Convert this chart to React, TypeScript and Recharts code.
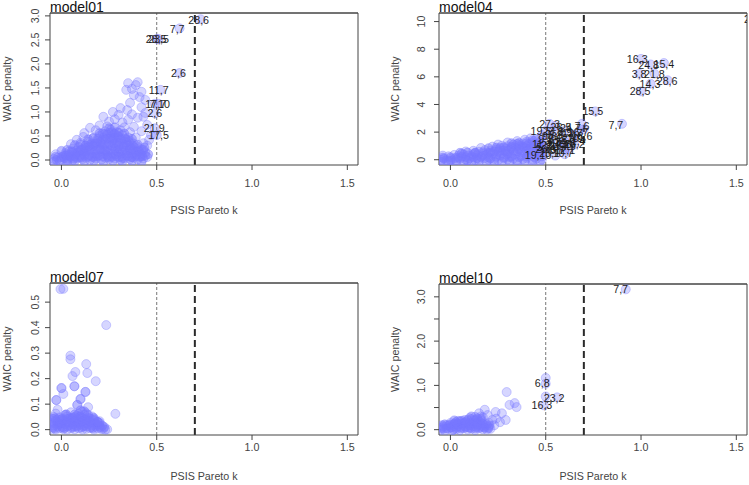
import React from 'react';
import { ScatterChart, Scatter, XAxis, YAxis, ReferenceLine, Label } from 'recharts';

const FONT = '"Liberation Sans", Arial, Helvetica, sans-serif';

// Shared Pareto-k axis
const kDomain: [number, number] = [-0.06, 1.556];
const kTicks = [0, 0.5, 1, 1.5];

type Pt = [number, number]; // [PSIS Pareto k, WAIC penalty]
type Tag = { id: string; k: number; p: number };

// ---------- model01 ----------
const model01Points: Pt[] = [
  [-0.04, 0.02], [-0.02, 0.05], [0.0, 0.01], [0.01, 0.08], [0.03, 0.03], [0.05, 0.06], [0.06, 0.0], [0.08, 0.04],
  [0.1, 0.09], [0.11, 0.02], [0.13, 0.05], [0.15, 0.0], [0.16, 0.07], [0.18, 0.03], [0.2, 0.1], [0.21, 0.01],
  [0.23, 0.05], [0.25, 0.02], [0.26, 0.08], [0.28, 0.03], [0.3, 0.06], [0.31, 0.0], [0.33, 0.04], [0.35, 0.08],
  [0.36, 0.02], [0.38, 0.05], [0.4, 0.01], [0.41, 0.07], [0.43, 0.03], [0.45, 0.06],
  [-0.03, 0.12], [0.02, 0.14], [0.04, 0.18], [0.07, 0.12], [0.09, 0.16], [0.12, 0.13], [0.14, 0.19], [0.17, 0.15],
  [0.19, 0.2], [0.22, 0.14], [0.24, 0.18], [0.27, 0.13], [0.29, 0.19], [0.32, 0.15], [0.34, 0.2], [0.37, 0.13],
  [0.39, 0.17], [0.42, 0.12], [0.44, 0.16],
  [0.06, 0.24], [0.09, 0.27], [0.11, 0.22], [0.13, 0.3], [0.15, 0.25], [0.18, 0.28], [0.2, 0.23], [0.22, 0.31],
  [0.24, 0.26], [0.26, 0.3], [0.28, 0.24], [0.3, 0.29], [0.33, 0.25], [0.35, 0.3], [0.37, 0.24], [0.4, 0.27], [0.42, 0.22],
  [0.1, 0.36], [0.14, 0.38], [0.16, 0.34], [0.19, 0.4], [0.21, 0.35], [0.23, 0.42], [0.25, 0.37], [0.27, 0.41],
  [0.29, 0.36], [0.31, 0.42], [0.34, 0.37], [0.36, 0.4], [0.38, 0.34],
  [0.17, 0.47], [0.2, 0.5], [0.22, 0.46], [0.24, 0.53], [0.26, 0.48], [0.28, 0.55], [0.3, 0.49], [0.32, 0.52], [0.35, 0.47],
  [0.23, 0.6], [0.26, 0.63], [0.29, 0.58], [0.31, 0.62],
  [0.115, 0.48], [0.15, 0.67], [0.12, 0.56], [0.2, 0.72], [0.22, 0.9], [0.25, 0.8], [0.27, 1.0], [0.3, 0.94],
  [0.32, 0.78], [0.345, 1.04], [0.36, 1.19], [0.34, 1.46], [0.35, 1.6], [0.38, 1.35], [0.39, 1.56], [0.4, 1.62],
  [0.41, 1.31], [0.4, 0.88], [0.38, 0.69], [0.37, 0.95], [0.42, 1.1], [0.44, 1.25], [0.43, 0.9], [0.45, 0.73],
  [0.47, 0.52], [0.43, 0.35], [0.46, 0.42], [0.33, 0.68], [0.36, 0.58], [0.39, 0.47], [0.42, 0.6], [0.18, 0.62],
  [0.24, 0.7], [0.28, 0.85], [0.31, 1.08], [0.35, 0.84], [0.42, 1.42], [0.37, 1.48], [0.44, 0.98], [0.05, 0.33],
  [0.08, 0.42], [0.45, 0.3],
  [0.73, 2.93], [0.62, 2.74], [0.5, 2.52], [0.51, 2.52], [0.62, 1.81], [0.52, 1.46], [0.49, 1.17], [0.51, 1.17],
  [0.49, 0.97], [0.49, 0.66], [0.5, 0.52],
];
// the crowded low-k core of model01
const model01Core: Pt[] = [
  [-0.04, -0.03], [-0.01, -0.02], [0.03, -0.04], [0.07, -0.02], [0.12, -0.03], [0.17, -0.02], [0.22, -0.04],
  [0.27, -0.02], [0.32, -0.03], [0.37, -0.02], [0.42, -0.04],
  [-0.03, 0.07], [0.0, 0.06], [0.025, 0.09], [0.045, 0.07], [0.07, 0.08], [0.095, 0.06], [0.12, 0.09], [0.14, 0.07],
  [0.165, 0.06], [0.19, 0.08], [0.215, 0.07], [0.24, 0.09], [0.265, 0.06], [0.29, 0.08], [0.315, 0.07], [0.34, 0.09],
  [0.365, 0.06], [0.39, 0.08], [0.415, 0.07], [0.44, 0.09],
  [0.0, 0.19], [0.03, 0.21], [0.055, 0.18], [0.08, 0.2], [0.105, 0.22], [0.13, 0.19], [0.155, 0.21], [0.18, 0.2],
  [0.205, 0.22], [0.23, 0.19], [0.255, 0.21], [0.28, 0.2], [0.305, 0.22], [0.33, 0.19], [0.355, 0.21], [0.38, 0.2],
  [0.405, 0.19], [0.43, 0.21],
  [0.07, 0.31], [0.1, 0.33], [0.125, 0.3], [0.15, 0.32], [0.175, 0.34], [0.2, 0.31], [0.225, 0.33], [0.25, 0.32],
  [0.275, 0.34], [0.3, 0.31], [0.325, 0.33], [0.35, 0.32], [0.375, 0.3], [0.4, 0.32],
  [0.14, 0.43], [0.165, 0.45], [0.19, 0.44], [0.215, 0.42], [0.24, 0.45], [0.265, 0.43], [0.29, 0.46], [0.315, 0.44],
  [0.34, 0.42], [0.37, 0.44],
  [0.2, 0.56], [0.225, 0.54], [0.25, 0.57], [0.275, 0.55], [0.3, 0.57], [0.33, 0.55],
  [0.25, 0.66], [0.28, 0.68],
  [-0.025, 0.0], [0.015, 0.04], [0.04, 0.11], [0.065, 0.03], [0.085, 0.15], [0.105, 0.05], [0.125, 0.25],
  [0.145, 0.1], [0.165, 0.29], [0.185, 0.12], [0.205, 0.37], [0.225, 0.22], [0.245, 0.06], [0.255, 0.45],
  [0.27, 0.28], [0.285, 0.12], [0.295, 0.5], [0.305, 0.36], [0.32, 0.04], [0.325, 0.28], [0.345, 0.14],
  [0.355, 0.38], [0.37, 0.06], [0.385, 0.26], [0.395, 0.11], [0.41, 0.18], [0.425, 0.08], [0.435, 0.26],
  [0.455, 0.12], [0.265, 0.58], [0.215, 0.55], [0.185, 0.35], [0.145, 0.28], [0.1, 0.2], [0.06, 0.16],
  [0.02, 0.1], [0.275, 0.47], [0.335, 0.45], [0.36, 0.25], [0.3, 0.15], [0.235, 0.12], [0.18, 0.07],
  [0.12, 0.17], [0.075, 0.06], [0.03, 0.0],
];
const model01Labels: Tag[] = [
  { id: '28,6', k: 0.72, p: 2.92 },
  { id: '7,7', k: 0.607, p: 2.73 },
  { id: '28,5', k: 0.497, p: 2.52 },
  { id: '23,5', k: 0.51, p: 2.52 },
  { id: '2,6', k: 0.614, p: 1.81 },
  { id: '11,7', k: 0.51, p: 1.46 },
  { id: '17,7', k: 0.495, p: 1.17 },
  { id: '7,10', k: 0.515, p: 1.17 },
  { id: '2,6', k: 0.49, p: 0.97 },
  { id: '21,9', k: 0.487, p: 0.66 },
  { id: '17,5', k: 0.51, p: 0.52 },
];

// ---------- model04 ----------
const model04Points: Pt[] = [
  [-0.05, 0.0], [-0.02, -0.05], [0.0, 0.05], [0.03, -0.02], [0.05, 0.08], [0.08, 0.0], [0.1, 0.1], [0.13, -0.03],
  [0.15, 0.05], [0.18, 0.12], [0.2, 0.0], [0.23, 0.06], [0.25, -0.04], [0.28, 0.1], [0.3, 0.02], [0.33, 0.08],
  [0.35, -0.02], [0.38, 0.05], [0.4, 0.12], [0.43, 0.0], [0.45, 0.07], [0.48, 0.02],
  [-0.04, 0.3], [-0.01, 0.25], [0.02, 0.35], [0.04, 0.28], [0.07, 0.38], [0.09, 0.3], [0.12, 0.4], [0.14, 0.33],
  [0.17, 0.42], [0.19, 0.36], [0.22, 0.45], [0.24, 0.38], [0.27, 0.48], [0.29, 0.4], [0.32, 0.5], [0.34, 0.42],
  [0.37, 0.52], [0.39, 0.44], [0.42, 0.55], [0.44, 0.46], [0.47, 0.5],
  [0.08, 0.6], [0.12, 0.65], [0.15, 0.58], [0.18, 0.7], [0.21, 0.66], [0.24, 0.75], [0.26, 0.68], [0.29, 0.8],
  [0.31, 0.72], [0.34, 0.85], [0.36, 0.78], [0.39, 0.88], [0.41, 0.8], [0.44, 0.9], [0.46, 0.82],
  [0.22, 0.95], [0.27, 1.02], [0.3, 0.98], [0.33, 1.1], [0.36, 1.05], [0.38, 1.18], [0.41, 1.12], [0.43, 1.25],
  [0.46, 1.15], [0.48, 1.3],
  [0.35, 1.35], [0.39, 1.45], [0.42, 1.55], [0.45, 1.48], [0.47, 1.6], [0.4, 1.3], [0.44, 1.38],
  [0.3, 1.25], [0.25, 1.1], [0.16, 0.85], [0.48, 1.8], [0.5, 2.1], [0.52, 2.6], [0.55, 2.45], [0.6, 2.1],
  [0.65, 1.8], [0.7, 2.2], [0.69, 2.6], [0.58, 1.2], [0.62, 0.8], [0.55, 0.3], [0.5, 0.5], [0.6, 0.4],
  [0.54, 1.25], [0.6, 1.3], [0.65, 1.1], [0.52, 1.7], [0.57, 0.95], [0.67, 2.0], [0.49, 0.9], [0.54, 2.05],
  [0.6, 0.7], [0.64, 1.55],
  [1.0, 7.3], [1.05, 6.9], [1.12, 7.0], [0.99, 6.23], [1.07, 6.23], [1.14, 5.75], [1.05, 5.5], [1.0, 4.95],
  [0.76, 3.5], [0.9, 2.6], [1.595, 10.14],
];
// the crowded low-k band of model04
const model04Core: Pt[] = [
  [-0.05, -0.15], [-0.01, -0.12], [0.03, -0.16], [0.07, -0.13], [0.11, -0.15], [0.15, -0.12], [0.19, -0.16],
  [0.23, -0.13], [0.27, -0.15], [0.31, -0.12], [0.35, -0.16], [0.39, -0.13], [0.43, -0.15], [0.47, -0.12],
  [-0.04, 0.16], [0.0, 0.18], [0.04, 0.15], [0.08, 0.19], [0.12, 0.17], [0.16, 0.2], [0.2, 0.16], [0.24, 0.21],
  [0.28, 0.18], [0.32, 0.22], [0.36, 0.19], [0.4, 0.23], [0.44, 0.2], [0.48, 0.24],
  [0.05, 0.5], [0.09, 0.52], [0.13, 0.49], [0.17, 0.55], [0.21, 0.53], [0.25, 0.58], [0.29, 0.6], [0.33, 0.64],
  [0.37, 0.67], [0.41, 0.7], [0.45, 0.72], [0.48, 0.76],
  [0.2, 0.84], [0.24, 0.88], [0.28, 0.9], [0.32, 0.95], [0.36, 0.93], [0.4, 1.0], [0.44, 1.05], [0.48, 1.08],
  [0.32, 1.2], [0.36, 1.22], [0.4, 1.2], [0.44, 1.15], [0.47, 1.3],
  [-0.035, 0.08], [0.0, -0.08], [0.025, 0.12], [0.06, 0.22], [0.09, -0.07], [0.11, 0.26], [0.14, 0.12],
  [0.17, 0.3], [0.2, 0.5], [0.21, 0.1], [0.23, 0.6], [0.26, 0.3], [0.28, 0.65], [0.31, 0.2], [0.32, 0.85],
  [0.35, 0.6], [0.37, 0.25], [0.38, 0.95], [0.41, 0.35], [0.42, 0.85], [0.45, 0.3], [0.46, 0.98], [0.47, 0.62],
  [0.35, 1.15], [0.43, 1.4], [0.4, 0.65], [0.26, 0.85], [0.3, 0.45], [0.13, 0.52], [0.06, 0.45],
];
const model04Labels: Tag[] = [
  { id: '16,3', k: 0.98, p: 7.25 },
  { id: '24,8', k: 1.04, p: 6.88 },
  { id: '15,4', k: 1.12, p: 6.95 },
  { id: '3,8', k: 0.99, p: 6.23 },
  { id: '21,8', k: 1.07, p: 6.2 },
  { id: '28,6', k: 1.137, p: 5.72 },
  { id: '14,3', k: 1.047, p: 5.5 },
  { id: '28,5', k: 0.995, p: 4.93 },
  { id: '15,5', k: 0.747, p: 3.55 },
  { id: '7,7', k: 0.868, p: 2.54 },
  { id: '29,1', k: 1.595, p: 10.14 },
  { id: '27,3', k: 0.52, p: 2.6 },
  { id: '19,5', k: 0.475, p: 2.1 },
  { id: '19,10', k: 0.46, p: 0.3 },
  { id: '26,5', k: 0.58, p: 2.35 },
  { id: '24,7', k: 0.63, p: 2.28 },
  { id: '7,6', k: 0.69, p: 2.45 },
  { id: '2,9', k: 0.6, p: 2.0 },
  { id: '5,8', k: 0.55, p: 1.8 },
  { id: '12,7', k: 0.64, p: 1.9 },
  { id: '18,6', k: 0.69, p: 1.7 },
  { id: '9,3', k: 0.5, p: 1.5 },
  { id: '13,5', k: 0.56, p: 1.4 },
  { id: '6,10', k: 0.62, p: 1.55 },
  { id: '1,4', k: 0.67, p: 1.35 },
  { id: '11,2', k: 0.48, p: 1.1 },
  { id: '22,6', k: 0.53, p: 1.05 },
  { id: '17,8', k: 0.58, p: 1.1 },
  { id: '4,9', k: 0.62, p: 0.95 },
  { id: '20,3', k: 0.5, p: 0.75 },
  { id: '8,7', k: 0.56, p: 0.7 },
  { id: '25,1', k: 0.52, p: 0.45 },
  { id: '10,7', k: 0.59, p: 0.45 },
  { id: '3,3', k: 0.54, p: 1.25 },
  { id: '14,9', k: 0.6, p: 1.3 },
  { id: '26,2', k: 0.65, p: 1.1 },
  { id: '9,8', k: 0.52, p: 1.7 },
  { id: '21,4', k: 0.57, p: 0.95 },
  { id: '16,7', k: 0.67, p: 2.0 },
  { id: '5,2', k: 0.49, p: 0.9 },
  { id: '23,6', k: 0.54, p: 2.05 },
  { id: '12,1', k: 0.6, p: 0.7 },
  { id: '27,9', k: 0.64, p: 1.55 },
];

// ---------- model07 ----------
const model07Points: Pt[] = [
  [-0.05, 0.003], [-0.03, 0.0], [-0.01, 0.005], [0.01, 0.002], [0.03, 0.0], [0.05, 0.004], [0.07, 0.001], [0.09, 0.005],
  [0.11, 0.0], [0.13, 0.003], [0.15, 0.006], [0.17, 0.0], [0.19, 0.004], [0.21, 0.002], [0.23, 0.0], [0.24, 0.001],
  [-0.04, 0.016], [-0.02, 0.02], [0.0, 0.015], [0.02, 0.022], [0.04, 0.017], [0.06, 0.021], [0.08, 0.015], [0.1, 0.02],
  [0.12, 0.018], [0.14, 0.022], [0.16, 0.016], [0.18, 0.019], [0.2, 0.014],
  [-0.05, 0.033], [-0.03, 0.037], [-0.01, 0.031], [0.01, 0.036], [0.03, 0.032], [0.05, 0.038], [0.07, 0.034], [0.09, 0.04],
  [0.11, 0.035], [0.13, 0.038], [0.15, 0.032], [0.17, 0.036], [0.19, 0.03], [0.2, 0.033],
  [-0.04, 0.05], [-0.01, 0.048], [0.03, 0.052], [0.06, 0.047], [0.08, 0.055], [0.1, 0.05], [0.12, 0.058], [0.14, 0.048],
  [0.16, 0.052], [0.05, 0.068], [0.09, 0.062], [0.11, 0.07], [0.13, 0.064], [-0.03, 0.063],
  [-0.005, 0.551], [0.01, 0.552], [0.235, 0.41], [0.047, 0.29], [0.047, 0.276], [0.13, 0.257], [0.073, 0.226],
  [0.136, 0.222], [0.058, 0.21], [0.068, 0.17], [0.068, 0.17], [0.18, 0.19], [0.0, 0.163], [0.0, 0.163], [0.01, 0.14],
  [0.126, 0.148], [0.126, 0.148], [-0.027, 0.116], [-0.027, 0.116], [0.1, 0.12], [0.1, 0.12], [0.083, 0.097],
  [0.083, 0.097], [0.14, 0.088], [0.283, 0.062], [-0.02, 0.078], [0.19, 0.03], [0.19, 0.03], [0.22, 0.003],
];
// the crowded low-k core of model07
const model07Core: Pt[] = [
  [-0.045, 0.009], [-0.02, 0.011], [0.005, 0.008], [0.03, 0.012], [0.055, 0.009], [0.08, 0.011], [0.105, 0.008],
  [0.13, 0.012], [0.155, 0.009], [0.18, 0.011], [0.205, 0.008], [0.225, 0.01],
  [-0.045, 0.026], [-0.02, 0.028], [0.005, 0.025], [0.03, 0.027], [0.055, 0.029], [0.08, 0.026], [0.105, 0.028],
  [0.13, 0.025], [0.155, 0.027], [0.18, 0.024], [0.2, 0.026],
  [-0.045, 0.043], [-0.02, 0.041], [0.005, 0.044], [0.03, 0.042], [0.055, 0.045], [0.08, 0.043], [0.105, 0.046],
  [0.13, 0.042], [0.15, 0.044], [0.17, 0.041],
  [0.02, 0.058], [0.07, 0.06], [0.1, 0.076], [0.12, 0.072],
  [-0.035, 0.004], [-0.01, 0.022], [0.015, 0.006], [0.04, 0.028], [0.065, 0.012], [0.09, 0.03], [0.115, 0.013],
  [0.14, 0.034], [0.165, 0.006], [0.19, 0.02], [0.215, 0.015], [0.0, 0.04], [0.045, 0.045], [0.095, 0.052],
  [0.14, 0.058], [0.07, 0.05], [-0.035, 0.045], [0.17, 0.046], [0.12, 0.04], [0.025, 0.06],
];

// ---------- model10 ----------
const model10Points: Pt[] = [
  [-0.05, 0.0], [-0.03, -0.03], [-0.01, 0.02], [0.01, -0.02], [0.03, 0.01], [0.05, -0.01], [0.07, 0.03], [0.09, 0.0],
  [0.11, 0.02], [0.13, -0.01], [0.15, 0.03], [0.17, 0.01], [0.19, 0.0], [0.21, 0.02],
  [-0.04, 0.07], [-0.02, 0.1], [0.0, 0.06], [0.02, 0.09], [0.04, 0.08], [0.06, 0.11], [0.08, 0.07], [0.1, 0.1],
  [0.12, 0.08], [0.14, 0.12], [0.16, 0.09], [0.18, 0.1], [0.2, 0.06],
  [0.0, 0.15], [0.03, 0.17], [0.06, 0.14], [0.08, 0.18], [0.1, 0.15], [0.12, 0.2], [0.14, 0.16], [0.16, 0.21], [0.17, 0.14],
  [0.295, 0.85], [0.31, 0.56], [0.337, 0.6], [0.347, 0.51], [0.237, 0.4], [0.27, 0.37], [0.29, 0.22], [0.26, 0.17],
  [0.22, 0.22], [0.195, 0.33], [0.18, 0.45], [0.15, 0.37], [0.13, 0.29], [0.1, 0.26], [0.075, 0.22], [0.028, 0.17],
  [0.04, 0.2], [0.16, 0.3], [0.17, 0.28], [0.24, 0.25], [0.2, 0.15], [0.23, 0.1],
  [0.92, 3.17], [0.5, 1.17], [0.5, 1.04], [0.56, 0.73], [0.5, 0.75], [0.49, 0.55],
];
// the crowded low-k core of model10
const model10Core: Pt[] = [
  [-0.045, 0.04], [-0.02, 0.03], [0.005, 0.05], [0.03, 0.04], [0.055, 0.03], [0.08, 0.05], [0.105, 0.04],
  [0.13, 0.03], [0.155, 0.05], [0.18, 0.04], [0.2, 0.03],
  [-0.03, 0.12], [-0.005, 0.11], [0.02, 0.13], [0.045, 0.12], [0.07, 0.14], [0.095, 0.12], [0.12, 0.13],
  [0.145, 0.11], [0.17, 0.13],
  [0.02, 0.21], [0.05, 0.19], [0.09, 0.22], [0.11, 0.24], [0.135, 0.22], [0.16, 0.25],
  [-0.035, 0.02], [-0.01, 0.09], [0.015, 0.0], [0.035, 0.13], [0.055, 0.06], [0.075, 0.16], [0.095, 0.05],
  [0.115, 0.15], [0.135, 0.06], [0.155, 0.18], [0.175, 0.06], [0.19, 0.12], [0.205, 0.1], [0.06, 0.2],
  [0.11, 0.3], [0.14, 0.26], [0.02, 0.12], [-0.045, 0.1],
];
const model10Labels: Tag[] = [
  { id: '7,7', k: 0.893, p: 3.17 },
  { id: '6,8', k: 0.482, p: 1.04 },
  { id: '23,2', k: 0.544, p: 0.71 },
  { id: '16,3', k: 0.48, p: 0.55 },
];

interface PanelSpec {
  title: string;
  points: Pt[];
  core: Pt[];
  labels: Tag[];
  yDomain: [number, number];
  yTicks: number[];
  yFmt: (v: number) => string;
  left: number;
  top: number;
  width: number;
  height: number;
  margin: { top: number; right: number; bottom: number; left: number };
  yAxisWidth: number;
  yTickGap: number;
  xTickGap: number;
  yTitleOffset: number;
  xTitleOffset: number;
}

const fmt1 = (v: number) => v.toFixed(1);

const panels: PanelSpec[] = [
  {
    title: 'model01', points: model01Points, core: model01Core, labels: model01Labels,
    yDomain: [-0.104, 3.06], yTicks: [0, 0.5, 1, 1.5, 2, 2.5, 3], yFmt: fmt1,
    left: 0, top: 0, width: 374, height: 242,
    margin: { top: 12, right: 15, bottom: 47, left: 0 },
    yAxisWidth: 50, yTickGap: 6, xTickGap: 9, yTitleOffset: 7, xTitleOffset: 11,
  },
  {
    title: 'model04', points: model04Points, core: model04Core, labels: model04Labels,
    yDomain: [-0.38, 10.62], yTicks: [0, 2, 4, 6, 8, 10], yFmt: (v) => String(v),
    left: 374, top: 0, width: 375, height: 242,
    margin: { top: 12, right: 1, bottom: 47, left: 0 },
    yAxisWidth: 65, yTickGap: 9, xTickGap: 9, yTitleOffset: 21, xTitleOffset: 11,
  },
  {
    title: 'model07', points: model07Points, core: model07Core, labels: [],
    yDomain: [-0.021, 0.575], yTicks: [0, 0.1, 0.2, 0.3, 0.4, 0.5], yFmt: fmt1,
    left: 0, top: 242, width: 374, height: 243,
    margin: { top: 40, right: 15, bottom: 20, left: 0 },
    yAxisWidth: 50, yTickGap: 6, xTickGap: 3, yTitleOffset: 7, xTitleOffset: 7,
  },
  {
    title: 'model10', points: model10Points, core: model10Core, labels: model10Labels,
    yDomain: [-0.12, 3.29], yTicks: [0, 0.5, 1, 1.5, 2, 2.5, 3],
    yFmt: (v) => (Number.isInteger(v) ? v.toFixed(1) : ''),
    left: 374, top: 242, width: 375, height: 243,
    margin: { top: 41, right: 1, bottom: 20, left: 0 },
    yAxisWidth: 65, yTickGap: 9, xTickGap: 3, yTitleOffset: 21, xTitleOffset: 7,
  },
];

function Dot(props: any) {
  const { cx, cy } = props;
  if (cx == null || cy == null) return null;
  return (
    <circle cx={cx} cy={cy} r={4.5} fill="rgba(120,120,255,0.3)" stroke="rgba(120,120,255,0.4)" strokeWidth={0.9} />
  );
}

// points in the crowded region stack up many times; drawn more opaque
function CoreDot(props: any) {
  const { cx, cy } = props;
  if (cx == null || cy == null) return null;
  return <circle cx={cx} cy={cy} r={4.5} fill="rgba(120,120,255,0.5)" stroke="rgba(120,120,255,0.5)" strokeWidth={0.8} />;
}

function TagText(props: any) {
  const { cx, cy, payload } = props;
  if (cx == null || cy == null) return null;
  return (
    <text x={cx} y={cy} dy="0.36em" textAnchor="middle" fontSize={10.7} fontFamily={FONT} fill="#1e1e1e">
      {payload?.id}
    </text>
  );
}

function RotTick(props: any) {
  const { x, y, payload, fmt } = props;
  return (
    <text
      x={x}
      y={y}
      transform={`rotate(-90 ${x} ${y})`}
      textAnchor="middle"
      fontSize={10.7}
      fontFamily={FONT}
      fill="#444"
    >
      {fmt(payload.value)}
    </text>
  );
}

function TitleText(props: any) {
  const vb = props.viewBox || {};
  return (
    <text x={vb.x} y={(vb.y ?? 13) - 1} fontSize={14} fontFamily={FONT} fill="#111">
      {props.title}
    </text>
  );
}

const FRAME = '#444';

function Panel({ spec }: { spec: PanelSpec }) {
  const pts = spec.points.map(([k, p]) => ({ k, p }));
  const core = spec.core.map(([k, p]) => ({ k, p }));
  const tags = spec.labels.map((t) => ({ k: t.k, p: t.p, id: t.id }));
  return (
    <div style={{ position: 'absolute', left: spec.left, top: spec.top }}>
      <ScatterChart width={spec.width} height={spec.height} margin={spec.margin}>
        <XAxis
          type="number"
          dataKey="k"
          domain={kDomain}
          ticks={kTicks}
          allowDataOverflow
          interval={0}
          height={30}
          axisLine={{ stroke: FRAME }}
          tickLine={{ stroke: FRAME }}
          tickSize={5}
          tickMargin={spec.xTickGap}
          tickFormatter={fmt1}
          tick={{ fontSize: 10.7, fill: '#444', fontFamily: FONT }}
        >
          <Label
            value="PSIS Pareto k"
            position="bottom"
            offset={spec.xTitleOffset}
            style={{ fontSize: 10.7, fill: '#444', fontFamily: FONT }}
          />
        </XAxis>
        {/* top edge of the frame */}
        <XAxis
          xAxisId="frameTop"
          orientation="top"
          type="number"
          domain={kDomain}
          allowDataOverflow
          height={1}
          tick={false}
          tickLine={false}
          axisLine={{ stroke: FRAME }}
        />
        <YAxis
          type="number"
          dataKey="p"
          domain={spec.yDomain}
          ticks={spec.yTicks}
          allowDataOverflow
          interval={0}
          width={spec.yAxisWidth}
          axisLine={{ stroke: FRAME }}
          tickLine={{ stroke: FRAME }}
          tickSize={5}
          tickMargin={spec.yTickGap}
          tick={(t: any) => <RotTick {...t} fmt={spec.yFmt} />}
        >
          <Label
            value="WAIC penalty"
            angle={-90}
            position="insideLeft"
            offset={spec.yTitleOffset}
            style={{ fontSize: 10.7, fill: '#444', fontFamily: FONT, textAnchor: 'middle' }}
          />
        </YAxis>
        {/* right edge of the frame */}
        <YAxis
          yAxisId="frameRight"
          orientation="right"
          type="number"
          domain={spec.yDomain}
          allowDataOverflow
          width={1}
          tick={false}
          tickLine={false}
          axisLine={{ stroke: FRAME }}
        />
        <ReferenceLine x={0.5} stroke="#777" strokeWidth={1} strokeDasharray="3 2" />
        <ReferenceLine x={0.7} stroke="#2a2a2a" strokeWidth={2} strokeDasharray="7 4" />
        <Scatter data={core} shape={CoreDot} isAnimationActive={false} />
        <Scatter data={pts} shape={Dot} isAnimationActive={false} />
        <Scatter data={tags} shape={TagText} isAnimationActive={false} />
        <ReferenceLine
          y={spec.yDomain[1]}
          stroke={FRAME}
          ifOverflow="visible"
          label={(lp: any) => <TitleText {...lp} title={spec.title} />}
        />
      </ScatterChart>
    </div>
  );
}

export default function App() {
  return (
    <div style={{ position: 'absolute', left: 0, top: 0, width: 749, height: 485, background: '#fff', overflow: 'hidden' }}>
      {panels.map((s) => (
        <Panel key={s.title} spec={s} />
      ))}
    </div>
  );
}
